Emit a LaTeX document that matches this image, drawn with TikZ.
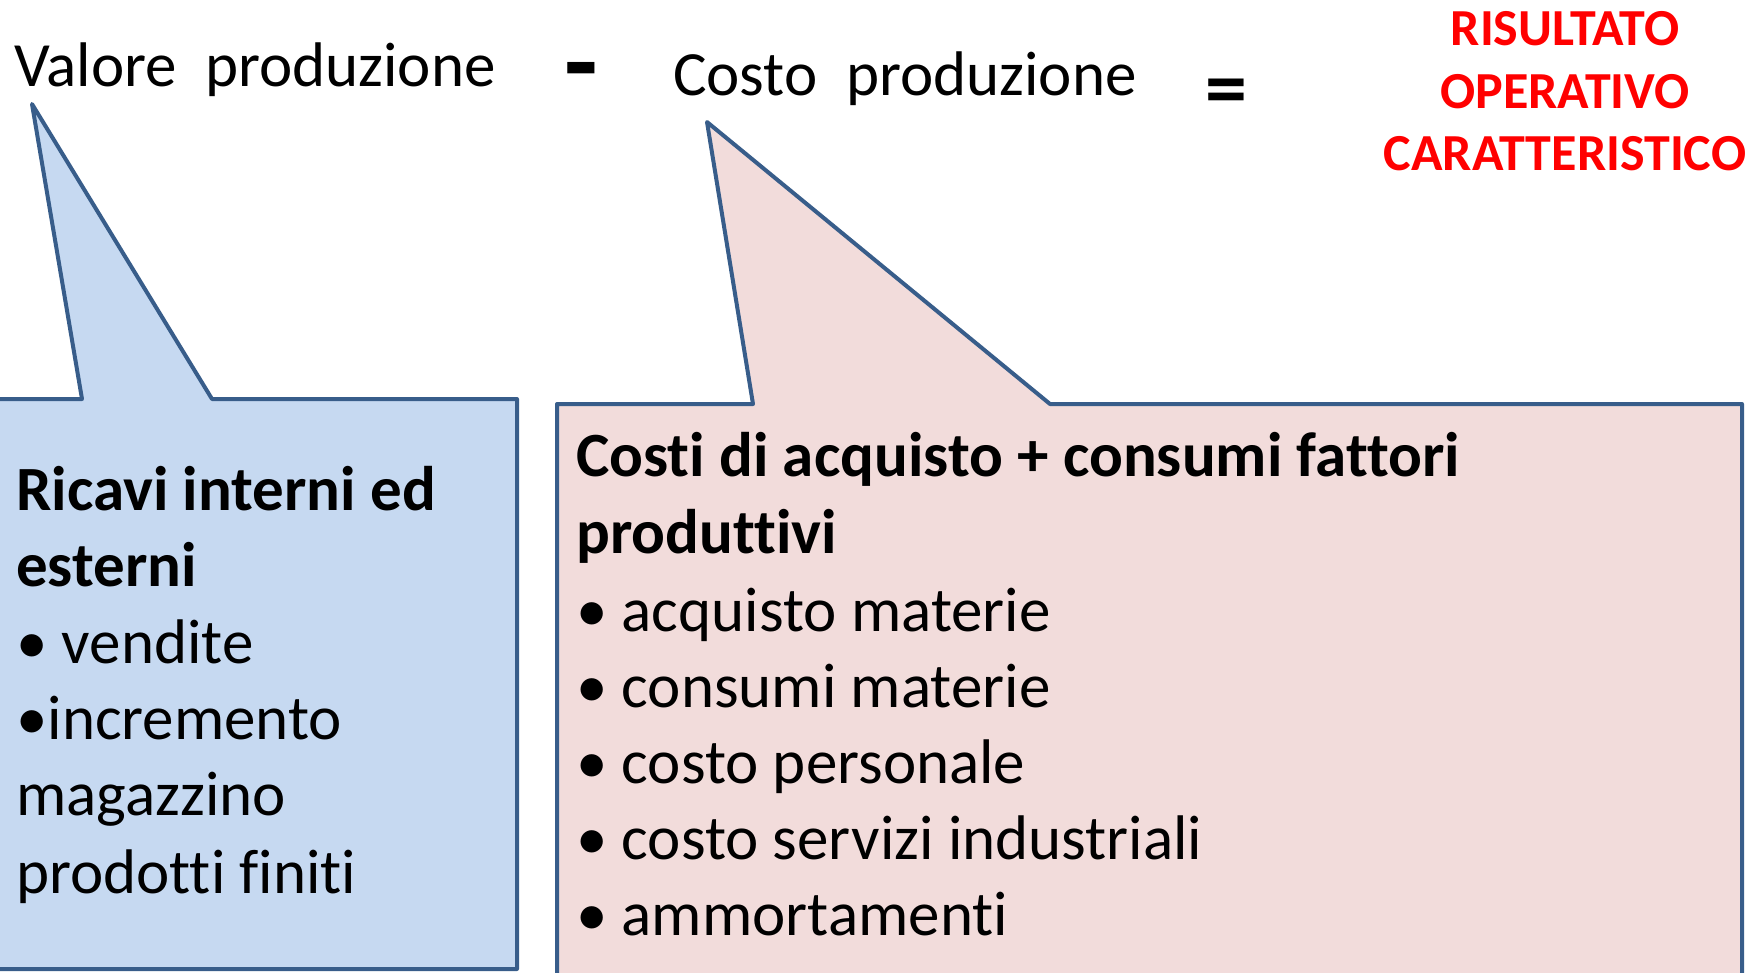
\documentclass[tikz,border=0pt]{standalone}
\usepackage{fontspec}
\setmainfont[Ligatures=CommonOff]{Carlito}
\definecolor{edgeblue}{HTML}{385D8A}
\definecolor{fillblue}{HTML}{C6D9F1}
\definecolor{fillpink}{HTML}{F2DCDB}
\definecolor{resred}{HTML}{FF0000}
\begin{document}
\begin{tikzpicture}[x=1pt,y=-1pt,
  callout/.style={draw=edgeblue,line width=4pt,line join=round},
  toptext/.style={anchor=base west,inner sep=0pt,font=\fontsize{63}{76}\selectfont},
  boxtext/.style={anchor=base west,inner sep=0pt,font=\fontsize{63}{76}\selectfont},
  boldtext/.style={boxtext,font=\fontsize{63}{76}\selectfont\bfseries},
  redtext/.style={anchor=base,inner sep=0pt,text=resred,font=\fontsize{52}{63}\selectfont\bfseries}]
\useasboundingbox (0,0) rectangle (1756,972);
% callouts
\draw[callout,fill=fillblue] (-10,399) -- (82,399) -- (32,104) -- (212,399) -- (517,399) -- (517,969) -- (-10,969) -- cycle;
\draw[callout,fill=fillpink] (557,404) -- (753,404) -- (707,122) -- (1050,404) -- (1742,404) -- (1742,995) -- (557,995) -- cycle;
% top line
\node[toptext] (valore) at (14,86) {Valore\ \ produzione};
\node[anchor=center,inner sep=0pt,font=\fontsize{110}{110}\selectfont\bfseries] (minus) at (581,81) {-};
\node[toptext] (costo) at (673,95) {Costo\ \ produzione};
\node[anchor=center,inner sep=0pt,font=\fontsize{84}{84}\selectfont\bfseries] (equals) at (1226,98) {=};
\node[redtext] (r1) at (1565,45) {RISULTATO};
\node[redtext] (r2) at (1565,108) {OPERATIVO};
\node[redtext] (r3) at (1565,170) {CARATTERISTICO};
% blue box text
\node[boldtext] (b1) at (16,510) {Ricavi interni ed};
\node[boldtext] (b2) at (16,586) {esterni};
\node[boxtext] (b3) at (16,663) {•\ vendite};
\node[boxtext] (b4) at (16,739) {•incremento};
\node[boxtext] (b5) at (16,815) {magazzino};
\node[boxtext] (b6) at (16,893) {prodotti finiti};
% pink box text
\node[boldtext] (p1) at (576,476) {Costi di acquisto + consumi fattori};
\node[boldtext] (p2) at (576,553) {produttivi};
\node[boxtext] (p3) at (576,631) {•\ acquisto materie};
\node[boxtext] (p4) at (576,707) {•\ consumi materie};
\node[boxtext] (p5) at (576,783) {•\ costo personale};
\node[boxtext] (p6) at (576,859) {•\ costo servizi industriali};
\node[boxtext] (p7) at (576,935) {•\ ammortamenti};
\end{tikzpicture}
\end{document}
